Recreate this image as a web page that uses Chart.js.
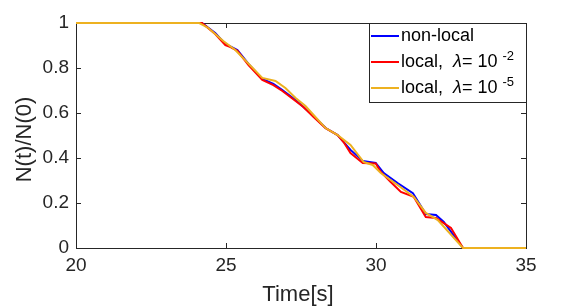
<!DOCTYPE html>
<html>
<head>
<meta charset="utf-8">
<script src="https://cdn.jsdelivr.net/npm/chart.js@4.4.1/dist/chart.umd.min.js"></script>
<style>
  html, body { margin: 0; padding: 0; background: #ffffff; }
  #wrap { width: 581px; height: 307px; }
</style>
</head>
<body>
<div id="wrap"><canvas id="decayChart" width="581" height="307"></canvas></div>
<script>
// Datos (tiempo en s, fraccion N(t)/N(0))
const timeNonLocal = [20, 24.2, 24.64, 24.98, 25.38, 25.75, 26.21, 26.58, 26.88, 27.32, 27.92, 28.32, 28.72, 29.15, 29.56, 29.99, 30.26, 30.72, 31.23, 31.66, 32.0, 32.26, 32.9, 35];
const fracNonLocal = [1, 1, 0.956, 0.907, 0.88, 0.818, 0.751, 0.729, 0.702, 0.658, 0.587, 0.533, 0.502, 0.436, 0.387, 0.378, 0.333, 0.289, 0.244, 0.151, 0.147, 0.116, 0, 0];

const timeLocal2 = [20, 24.2, 24.64, 24.98, 25.15, 25.38, 25.75, 26.21, 26.58, 26.88, 27.32, 27.58, 27.92, 28.32, 28.72, 28.92, 29.15, 29.56, 29.99, 30.16, 30.49, 30.83, 31.26, 31.66, 32.0, 32.5, 32.9, 35];
const fracLocal2 = [1, 1, 0.951, 0.902, 0.893, 0.876, 0.813, 0.747, 0.724, 0.698, 0.653, 0.627, 0.582, 0.533, 0.502, 0.471, 0.422, 0.378, 0.376, 0.338, 0.293, 0.249, 0.227, 0.138, 0.133, 0.089, 0, 0];

const timeLocal5 = [20, 24.11, 24.41, 24.91, 25.31, 26.21, 26.65, 26.98, 27.32, 27.65, 27.92, 28.32, 28.72, 29.15, 29.59, 29.89, 30.16, 30.72, 31.26, 31.66, 32.06, 32.9, 35];
const fracLocal5 = [1, 1, 0.978, 0.92, 0.88, 0.756, 0.742, 0.711, 0.667, 0.631, 0.591, 0.533, 0.502, 0.458, 0.382, 0.369, 0.333, 0.28, 0.227, 0.156, 0.124, 0, 0];

const xTicks = [20, 25, 30, 35];
const yTicks = [0, 0.2, 0.4, 0.6, 0.8, 1];

const AXIS_COLOR = '#262626';
const FONT = '"Liberation Sans", Arial, Helvetica, sans-serif';

function toPoints(xs, ys) {
    return xs.map((x, i) => ({ x: x, y: ys[i] }));
}

// Ejes estilo MATLAB: caja completa, ticks hacia dentro, titulos y leyenda
const matlabAxes = {
    id: 'matlabAxes',
    beforeDatasetsDraw(chart) {
        const ctx = chart.ctx;
        const a = chart.chartArea;
        const xs = chart.scales.x;
        const ys = chart.scales.y;
        const tl = 5;
        ctx.save();
        ctx.strokeStyle = AXIS_COLOR;
        ctx.lineWidth = 1;
        ctx.beginPath();
        xTicks.forEach(v => {
            const px = Math.round(xs.getPixelForValue(v)) + 0.5;
            ctx.moveTo(px, a.bottom); ctx.lineTo(px, a.bottom - tl);
            ctx.moveTo(px, a.top); ctx.lineTo(px, a.top + tl);
        });
        yTicks.forEach(v => {
            const py = Math.round(ys.getPixelForValue(v)) + 0.5;
            ctx.moveTo(a.left, py); ctx.lineTo(a.left + tl, py);
            ctx.moveTo(a.right, py); ctx.lineTo(a.right - tl, py);
        });
        ctx.stroke();
        ctx.strokeRect(Math.round(a.left) + 0.5, Math.round(a.top) + 0.5,
            Math.round(a.right - a.left), Math.round(a.bottom - a.top));

        // titulos
        ctx.fillStyle = AXIS_COLOR;
        ctx.font = '22px ' + FONT;
        ctx.textAlign = 'center';
        ctx.textBaseline = 'alphabetic';
        ctx.fillText('Time[s]', (a.left + a.right) / 2 - 3, 301);
        ctx.save();
        ctx.translate(31, (a.top + a.bottom) / 2 + 4);
        ctx.rotate(-Math.PI / 2);
        ctx.fillText('N(t)/N(0)', 0, 0);
        ctx.restore();
        ctx.restore();
    },
    afterDatasetsDraw(chart) {
        const ctx = chart.ctx;
        const a = chart.chartArea;
        ctx.save();
        // leyenda
        const lx = 369, ly = 23, lw = Math.round(a.right) - lx, lh = 79;
        ctx.fillStyle = '#ffffff';
        ctx.fillRect(lx, ly, lw, lh);
        ctx.strokeStyle = AXIS_COLOR;
        ctx.lineWidth = 1;
        ctx.strokeRect(lx + 0.5, ly + 0.5, lw, lh);
        const rows = [36, 62, 88];
        chart.data.datasets.forEach((ds, i) => {
            const y = rows[i];
            ctx.strokeStyle = ds.borderColor;
            ctx.lineWidth = 2;
            ctx.beginPath();
            ctx.moveTo(371, y); ctx.lineTo(399, y);
            ctx.stroke();
            ctx.fillStyle = '#000000';
            ctx.textAlign = 'left';
            ctx.textBaseline = 'middle';
            let x = 401;
            ds.legendParts.forEach(p => {
                ctx.font = (p.italic ? 'italic ' : '') + (p.sup ? '13px ' : '18px ') + FONT;
                ctx.fillText(p.t, x, p.sup ? y - 6 : y);
                x += ctx.measureText(p.t).width;
            });
        });
        ctx.restore();
    }
};

new Chart(document.getElementById('decayChart'), {
    type: 'line',
    data: {
        datasets: [
            {
                label: 'non-local',
                legendParts: [{ t: 'non-local' }],
                data: toPoints(timeNonLocal, fracNonLocal),
                borderColor: '#0000ff',
                borderWidth: 2,
                pointRadius: 0,
                tension: 0,
                clip: 4,
                order: 3
            },
            {
                label: 'local, λ= 10^-2',
                legendParts: [{ t: 'local,  ' }, { t: 'λ', italic: true }, { t: '= 10 ' }, { t: '-2', sup: true }],
                data: toPoints(timeLocal2, fracLocal2),
                borderColor: '#ff0000',
                borderWidth: 2,
                pointRadius: 0,
                tension: 0,
                clip: 4,
                order: 2
            },
            {
                label: 'local, λ= 10^-5',
                legendParts: [{ t: 'local,  ' }, { t: 'λ', italic: true }, { t: '= 10 ' }, { t: '-5', sup: true }],
                data: toPoints(timeLocal5, fracLocal5),
                borderColor: '#edb120',
                borderWidth: 2,
                pointRadius: 0,
                tension: 0,
                clip: 4,
                order: 1
            }
        ]
    },
    options: {
        responsive: false,
        animation: false,
        layout: { padding: { top: 23, right: 55, left: 0, bottom: 0 } },
        plugins: {
            legend: { display: false },
            tooltip: { enabled: false }
        },
        scales: {
            x: {
                type: 'linear',
                min: 20,
                max: 35,
                afterFit: s => { s.height = 59; },
                afterBuildTicks: s => { s.ticks = xTicks.map(v => ({ value: v })); },
                grid: { display: false, drawTicks: false },
                border: { display: false },
                ticks: { color: AXIS_COLOR, font: { family: FONT, size: 19 }, padding: 6, maxRotation: 0,
                         callback: v => String(v) }
            },
            y: {
                type: 'linear',
                min: 0,
                max: 1,
                afterFit: s => { s.width = 76; },
                afterBuildTicks: s => { s.ticks = yTicks.map(v => ({ value: v })); },
                grid: { display: false, drawTicks: false },
                border: { display: false },
                ticks: { color: AXIS_COLOR, font: { family: FONT, size: 19 }, padding: 7,
                         callback: v => String(v) }
            }
        }
    },
    plugins: [matlabAxes]
});
</script>
</body>
</html>
